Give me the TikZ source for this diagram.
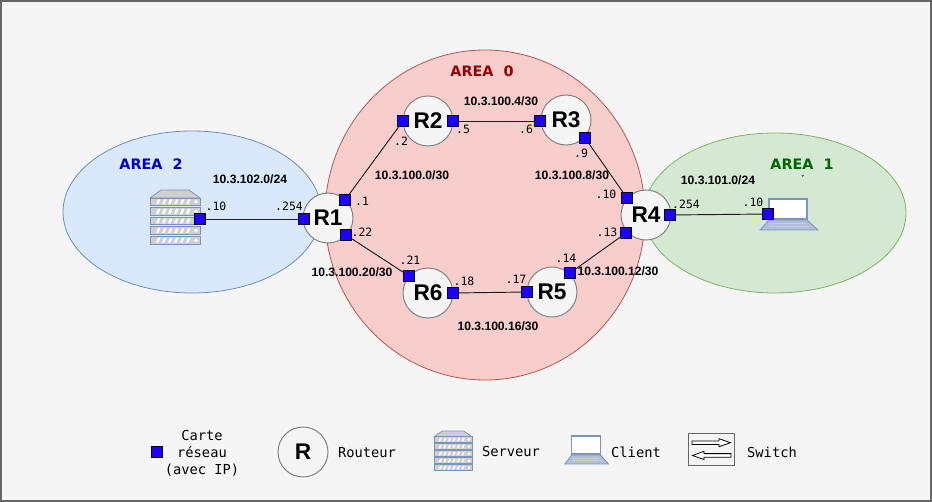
\documentclass[tikz,border=0pt]{standalone}
\usepackage{fontspec}
\setmainfont{Liberation Sans}
\setmonofont{DejaVu Sans Mono}
\newfontfamily\areafont{DejaVu Sans}

\definecolor{bgcol}{HTML}{F5F5F5}
\definecolor{framecol}{HTML}{666666}
\definecolor{iconline}{HTML}{7C93BE}
\definecolor{icongrey}{HTML}{CFCFCF}
\definecolor{portblue}{HTML}{1F00FF}
\definecolor{redfill}{HTML}{F8CECC}
\definecolor{redline}{HTML}{B85450}
\definecolor{bluefill}{HTML}{DAE8FC}
\definecolor{blueline}{HTML}{6C8EBF}
\definecolor{greenfill}{HTML}{D5E8D4}
\definecolor{greenline}{HTML}{82B366}

\tikzset{
    router/.style={shape=circle,draw=framecol!80!bgcol,fill=bgcol,line width=0.75pt,minimum size=37.5pt,inner sep=0pt,font=\bfseries\fontsize{17pt}{19pt}\selectfont},
    port/.style={shape=rectangle,draw=black,fill=portblue,line width=0.7pt,minimum size=7.6pt,inner sep=0pt},
    link/.style={line width=0.7pt,black!90},
    ipaddr/.style={inner sep=0pt,font=\ttfamily\fontsize{8.6pt}{10pt}\selectfont},
    netaddr/.style={inner sep=0pt,font=\bfseries\fontsize{9.1pt}{10pt}\selectfont},
    legendtxt/.style={inner sep=0pt,align=center,font=\ttfamily\fontsize{10.3pt}{12.75pt}\selectfont},
    arealabel/.style={inner sep=0pt,font=\areafont\bfseries\fontsize{10.8pt}{12pt}\selectfont},
    servericon/.pic={
        \fill[icongrey,draw=iconline,line width=0.6pt] (0,8) -- (11,0) -- (39,0) -- (50,8) -- cycle;
        \foreach \y in {8,17.6,27.2,36.8,46.4} {
            \fill[icongrey,draw=iconline,line width=0.6pt] (0,\y) rectangle (50,\y+7.6);
            \foreach \x in {6,12,18,24,30,36} {
                \fill[white] (\x,\y+6.2) -- (\x+2,\y+1.4) -- (\x+4.4,\y+1.4) -- (\x+2.4,\y+6.2) -- cycle;
            }
            \fill[white] (46,\y+3.8) circle (1.9);
        }
    },
    laptopicon/.pic={
        \fill[white,draw=iconline,line width=0.9pt] (9,0) rectangle (47,20);
        \fill[iconline!60,draw=iconline,line width=0.6pt] (9,21) -- (47,21) -- (58,31) -- (0,31) -- cycle;
        \fill[icongrey] (11,24) rectangle (45,25);
        \fill[icongrey] (9,27) rectangle (49,28);
    },
}

\begin{document}
\begin{tikzpicture}[x=0.75pt,y=-0.75pt]
    \useasboundingbox (0,0) rectangle (932,502);
    \fill[bgcol,draw=framecol,line width=1.5pt] (1,1) rectangle (931,501);

    % areas
    \draw[fill=redfill,draw=redline,line width=0.6pt] (485,215) ellipse (160 and 165);
    \draw[fill=bluefill,draw=blueline,line width=0.6pt] (192,212) ellipse (129 and 81);
    \draw[fill=greenfill,draw=greenline,line width=0.6pt] (775,213) ellipse (131 and 80);

    \node[arealabel,text=red!60!black] (area0) at (482,71) {AREA\ \ 0};
    \node[arealabel,text=blue!80!black] (area2) at (151,164) {AREA\ \ 2};
    \node[arealabel,text=green!40!black] (area1) at (802,164) {AREA\ \ 1};
    \fill[black!70] (801.5,175) -- (804,175) -- (802.7,177) -- cycle;

    % routers
    \node[router] (R1) at (328,218) {R1};
    \node[router] (R2) at (428,121) {R2};
    \node[router] (R3) at (566,120) {R3};
    \node[router] (R4) at (646,215) {R4};
    \node[router] (R5) at (552,292) {R5};
    \node[router] (R6) at (428,293) {R6};

    % server and client
    \pic at (150,190) {servericon};
    \pic at (760,199) {laptopicon};

    % network cards
    \node[port] (srv) at (200,219) {};
    \node[port] (r1a) at (304,219) {};
    \node[port] (r1b) at (345,200) {};
    \node[port] (r1c) at (346,235) {};
    \node[port] (r2a) at (403,121) {};
    \node[port] (r2b) at (453,121) {};
    \node[port] (r3a) at (540,121) {};
    \node[port] (r3b) at (585,138) {};
    \node[port] (r4a) at (627,198) {};
    \node[port] (r4b) at (626,233) {};
    \node[port] (r4c) at (670,215) {};
    \node[port] (r5a) at (570,273) {};
    \node[port] (r5b) at (527,292) {};
    \node[port] (r6a) at (453,293) {};
    \node[port] (r6b) at (409,276) {};
    \node[port] (cli) at (768,214) {};

    \draw[link] (srv) edge (r1a);
    \draw[link] (r1b) edge (r2a);
    \draw[link] (r2b) edge (r3a);
    \draw[link] (r3b) edge (r4a);
    \draw[link] (r4b) edge (r5a);
    \draw[link] (r5b) edge (r6a);
    \draw[link] (r6b) edge (r1c);
    \draw[link] (r4c) edge (cli);

    % subnets
    \node[netaddr] (n102) at (250,179) {10.3.102.0/24};
    \node[netaddr] (n101) at (718,180) {10.3.101.0/24};
    \node[netaddr] (n4) at (501,101) {10.3.100.4/30};
    \node[netaddr] (n0) at (412,175) {10.3.100.0/30};
    \node[netaddr] (n8) at (572,175) {10.3.100.8/30};
    \node[netaddr] (n20) at (352,272) {10.3.100.20/30};
    \node[netaddr] (n12) at (618,271) {10.3.100.12/30};
    \node[netaddr] (n16) at (498,326) {10.3.100.16/30};

    % host parts
    \node[ipaddr] (ipsrv) at (216,206) {.10};
    \node[ipaddr] (ipr1a) at (289,206) {.254};
    \node[ipaddr] (ipr1b) at (362,201) {.1};
    \node[ipaddr] (ipr1c) at (362,232) {.22};
    \node[ipaddr] (ipr2a) at (401,141) {.2};
    \node[ipaddr] (ipr2b) at (463,129) {.5};
    \node[ipaddr] (ipr3a) at (526,129) {.6};
    \node[ipaddr] (ipr3b) at (581,153) {.9};
    \node[ipaddr] (ipr4a) at (606,194) {.10};
    \node[ipaddr] (ipr4b) at (607,232) {.13};
    \node[ipaddr] (ipr4c) at (686,204) {.254};
    \node[ipaddr] (ipr5a) at (566,258) {.14};
    \node[ipaddr] (ipr5b) at (516,279) {.17};
    \node[ipaddr] (ipr6a) at (464,281) {.18};
    \node[ipaddr] (ipr6b) at (410,260) {.21};
    \node[ipaddr] (ipcli) at (753,202) {.10};

    % legend
    \node[port] (legport) at (157,452) {};
    \node[legendtxt] (legcard) at (202,453) {Carte\\réseau\\(avec IP)};
    \node[router] (legrouter) at (303,452) {R};
    \node[legendtxt] (legrout) at (367,453) {Routeur};
    \pic[xscale=0.76,yscale=0.73] at (434,431) {servericon};
    \node[legendtxt] (legserv) at (511,452) {Serveur};
    \pic[xscale=0.75,yscale=0.9] at (565,436) {laptopicon};
    \node[legendtxt] (legcli) at (636,452) {Client};
    \node[shape=rectangle,draw=framecol,line width=0.75pt,minimum width=35pt,minimum height=24.5pt,inner sep=0pt] (legsw) at (711.5,449.5) {};
    \draw[fill=white,line width=0.6pt] (692,441) -- (719,441) -- (719,438.7) -- (730.5,442.7) -- (719,446.7) -- (719,444.5) -- (692,444.5) -- cycle;
    \draw[fill=white,line width=0.6pt] (731,453.6) -- (704,453.6) -- (704,451.3) -- (692.5,455.5) -- (704,459.5) -- (704,457.2) -- (731,457.2) -- cycle;
    \node[legendtxt] (legswi) at (772,452) {Switch};
\end{tikzpicture}
\end{document}
